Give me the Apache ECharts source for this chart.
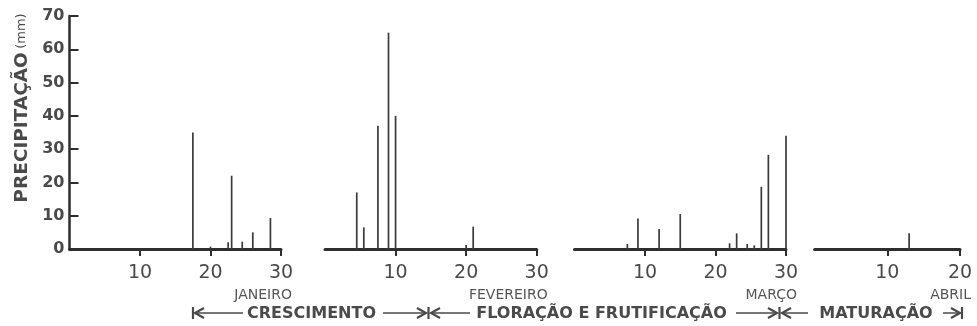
<!DOCTYPE html>
<html>
<head>
<meta charset="utf-8">
<script src="https://cdn.jsdelivr.net/npm/echarts@6/dist/echarts.min.js"></script>
<style>html,body{margin:0;padding:0;background:#fff;}#c{width:977px;height:326px;}</style>
</head>
<body>
<div id="c"></div>
<script>
// ---- data (day of month, rainfall mm) ----
const janDays = [17.5, 20, 22.5, 23, 24.5, 26, 28.5];
const janRain = [35, 0.7, 2, 22, 2.2, 5, 9.3];
const febDays = [4.5, 5.5, 7.5, 9, 10, 20, 21];
const febRain = [17, 6.5, 37, 65, 40, 1.2, 6.7];
const marDays = [7.5, 9, 12, 15, 22, 23, 24.5, 25.5, 26.5, 27.5, 30];
const marRain = [1.5, 9.2, 6, 10.5, 1.7, 4.7, 1.5, 1.1, 18.7, 28.3, 34];
const aprDays = [13];
const aprRain = [4.7];
const months = ['JANEIRO', 'FEVEREIRO', 'MARÇO', 'ABRIL'];
const monthMax = [30, 30, 30, 20];
const xTicks = [[10, 20, 30], [10, 20, 30], [10, 20, 30], [10, 20]];
const phases = ['CRESCIMENTO', 'FLORAÇÃO E FRUTIFICAÇÃO', 'MATURAÇÃO'];
const yName = 'PRECIPITAÇÃO';
const yUnit = '(mm)';

const dayArrays = [janDays, febDays, marDays, aprDays];
const rainArrays = [janRain, febRain, marRain, aprRain];

const FONT = 'DejaVu Sans';
const INK = '#3a3a3a';
const TXT = '#4a4a4a';

// layout
const gridLefts = [69.5, 325, 574.5, 814.6];
const gridWidths = [211.5, 211.7, 211.5, 145.4];
const TOP = 16, H = 233;

const grids = gridLefts.map((l, i) => ({left: l, top: TOP, width: gridWidths[i], height: H}));

const xAxes = months.map((m, i) => ({
  type: 'value', gridIndex: i, min: 0, max: monthMax[i], interval: 10,
  axisLine: {show: true, onZero: false, lineStyle: {color: '#2e2e2e', width: 3}},
  axisTick: {show: true, inside: false, length: 7, customValues: xTicks[i], lineStyle: {color: '#2e2e2e', width: 2}},
  axisLabel: {show: true, customValues: xTicks[i], margin: 15, fontFamily: FONT, fontSize: 19, color: TXT},
  splitLine: {show: false}
}));

const yAxes = months.map((m, i) => i === 0 ? ({
  type: 'value', gridIndex: 0, min: 0, max: 70, interval: 10,
  axisLine: {show: true, lineStyle: {color: '#2e2e2e', width: 2.5}},
  axisTick: {show: true, inside: true, length: 9, lineStyle: {color: '#2e2e2e', width: 2}},
  axisLabel: {margin: 5, fontFamily: FONT, fontSize: 16, fontWeight: 'bold', color: TXT},
  splitLine: {show: false}
}) : ({
  type: 'value', gridIndex: i, min: 0, max: 70, interval: 10, show: false,
  splitLine: {show: false}
}));

const series = months.map((m, i) => ({
  type: 'bar', xAxisIndex: i, yAxisIndex: i, barWidth: 1.7,
  itemStyle: {color: INK},
  data: dayArrays[i].map((d, k) => [d, rainArrays[i][k]]),
  animation: false
}));

// annotation graphics
const graphic = [];
graphic.push({
  type: 'text', x: 22, y: 108, rotation: Math.PI / 2,
  style: {
    text: '{a|' + yName + '} {b|' + yUnit + '}',
    align: 'center', verticalAlign: 'middle',
    rich: {
      a: {fontFamily: FONT, fontSize: 18.5, fontWeight: 'bold', fill: TXT},
      b: {fontFamily: FONT, fontSize: 13, fill: TXT}
    }
  }
});
months.forEach((m, i) => {
  graphic.push({
    type: 'text', x: gridLefts[i] + gridWidths[i] + 11, y: 295,
    style: {text: m, align: 'right', verticalAlign: 'middle', fontFamily: FONT, fontSize: 14, fill: '#555'}
  });
});
const phaseCenters = [311.5, 601.5, 876];
phases.forEach((p, i) => {
  graphic.push({
    type: 'text', x: phaseCenters[i], y: 314,
    style: {text: p, align: 'center', verticalAlign: 'middle', fontFamily: FONT, fontSize: 16, fontWeight: 'bold', fill: TXT}
  });
});
const Y = 313;
function line(x1, x2, w) {
  graphic.push({type: 'line', shape: {x1: x1, y1: Y, x2: x2, y2: Y}, style: {stroke: TXT, lineWidth: w || 1.5}});
}
function bar(x) {
  graphic.push({type: 'line', shape: {x1: x, y1: Y - 6, x2: x, y2: Y + 6}, style: {stroke: TXT, lineWidth: 2.2}});
}
function head(tip, dir) {
  graphic.push({type: 'polyline', shape: {points: [[tip - dir * 9, Y - 5], [tip, Y], [tip - dir * 9, Y + 5]]}, style: {stroke: TXT, lineWidth: 2.2, fill: null}});
}
bar(193); head(195, -1); line(195, 243);
line(383, 426); head(426, 1); bar(428.5); head(431, -1); line(431, 470);
line(736, 777); head(777, 1); bar(779.5); head(782, -1); line(782, 808);
line(943, 960); head(960, 1); bar(962);

const chart = echarts.init(document.getElementById('c'), null, {renderer: 'canvas'});
chart.setOption({
  backgroundColor: '#fff',
  animation: false,
  grid: grids,
  xAxis: xAxes,
  yAxis: yAxes,
  series: series,
  graphic: graphic
});
</script>
</body>
</html>
